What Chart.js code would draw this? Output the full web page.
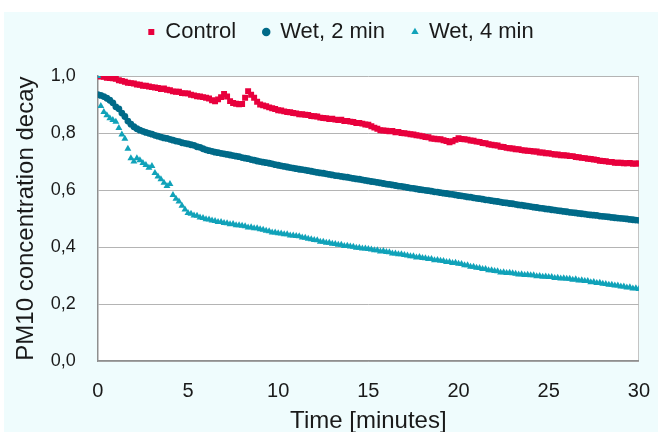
<!DOCTYPE html>
<html>
<head>
<meta charset="utf-8">
<script src="https://cdn.jsdelivr.net/npm/chart.js@4.4.1/dist/chart.umd.min.js"></script>
<style>
  html, body { margin: 0; padding: 0; background: #ffffff; }
  #wrap { width: 658px; height: 432px; position: relative; }
</style>
</head>
<body>
<div id="wrap"><canvas id="decayChart"></canvas></div>
<script>
// Mjerenja u intervalima od 10 s (1/6 min), 0..30 min
const sampleStepMin = 1 / 6;

const seriesNames = ['Control', 'Wet, 2 min', 'Wet, 4 min'];
const xTicks = [0, 5, 10, 15, 20, 25, 30];
const yTicks = [0, 0.2, 0.4, 0.6, 0.8, 1.0];

const controlValues = [
  1.000, 0.998, 0.997, 0.994, 0.993, 0.992,
  0.990, 0.985, 0.983, 0.980, 0.976, 0.975,
  0.974, 0.970, 0.969, 0.966, 0.966, 0.963,
  0.961, 0.960, 0.958, 0.954, 0.956, 0.952,
  0.950, 0.946, 0.945, 0.945, 0.940, 0.939,
  0.939, 0.934, 0.932, 0.929, 0.928, 0.926,
  0.924, 0.921, 0.915, 0.911, 0.918, 0.926,
  0.937, 0.928, 0.912, 0.905, 0.903, 0.901,
  0.902, 0.924, 0.947, 0.934, 0.924, 0.910,
  0.900, 0.897, 0.894, 0.890, 0.887, 0.884,
  0.880, 0.879, 0.876, 0.874, 0.873, 0.870,
  0.869, 0.866, 0.866, 0.864, 0.863, 0.860,
  0.859, 0.858, 0.854, 0.853, 0.852, 0.849,
  0.850, 0.847, 0.846, 0.847, 0.842, 0.842,
  0.840, 0.839, 0.835, 0.835, 0.833, 0.830,
  0.829, 0.824, 0.819, 0.815, 0.810, 0.809,
  0.808, 0.806, 0.807, 0.803, 0.804, 0.800,
  0.799, 0.798, 0.796, 0.795, 0.792, 0.791,
  0.789, 0.786, 0.785, 0.781, 0.780, 0.778,
  0.778, 0.775, 0.772, 0.768, 0.771, 0.776,
  0.782, 0.779, 0.778, 0.777, 0.774, 0.773,
  0.770, 0.769, 0.765, 0.764, 0.761, 0.759,
  0.757, 0.756, 0.752, 0.751, 0.748, 0.747,
  0.746, 0.743, 0.743, 0.740, 0.739, 0.738,
  0.737, 0.735, 0.735, 0.732, 0.732, 0.729,
  0.729, 0.727, 0.725, 0.725, 0.722, 0.722,
  0.721, 0.719, 0.719, 0.716, 0.715, 0.713,
  0.712, 0.710, 0.709, 0.707, 0.706, 0.703,
  0.702, 0.701, 0.699, 0.699, 0.696, 0.696,
  0.696, 0.694, 0.694, 0.695, 0.692, 0.693,
  0.693
];

const wet2Values = [
  0.935, 0.932, 0.928, 0.922, 0.915, 0.906,
  0.892, 0.885, 0.870, 0.858, 0.842, 0.831,
  0.822, 0.815, 0.810, 0.806, 0.802, 0.799,
  0.796, 0.792, 0.789, 0.786, 0.783, 0.781,
  0.778, 0.775, 0.772, 0.770, 0.766, 0.764,
  0.762, 0.759, 0.757, 0.752, 0.750, 0.745,
  0.741, 0.738, 0.736, 0.733, 0.731, 0.729,
  0.727, 0.725, 0.723, 0.721, 0.719, 0.717,
  0.714, 0.712, 0.710, 0.707, 0.705, 0.702,
  0.700, 0.698, 0.696, 0.694, 0.692, 0.689,
  0.687, 0.685, 0.683, 0.681, 0.679, 0.677,
  0.675, 0.673, 0.672, 0.670, 0.668, 0.666,
  0.664, 0.662, 0.660, 0.659, 0.657, 0.655,
  0.653, 0.651, 0.650, 0.648, 0.646, 0.645,
  0.643, 0.641, 0.639, 0.638, 0.636, 0.634,
  0.632, 0.630, 0.629, 0.627, 0.625, 0.623,
  0.621, 0.620, 0.618, 0.616, 0.614, 0.613,
  0.611, 0.609, 0.607, 0.606, 0.604, 0.602,
  0.601, 0.599, 0.598, 0.596, 0.594, 0.593,
  0.591, 0.589, 0.588, 0.586, 0.585, 0.583,
  0.581, 0.580, 0.578, 0.576, 0.575, 0.573,
  0.571, 0.570, 0.568, 0.566, 0.565, 0.563,
  0.561, 0.560, 0.558, 0.556, 0.555, 0.553,
  0.552, 0.550, 0.548, 0.547, 0.545, 0.544,
  0.542, 0.540, 0.539, 0.537, 0.536, 0.534,
  0.533, 0.531, 0.530, 0.528, 0.527, 0.525,
  0.524, 0.522, 0.521, 0.520, 0.518, 0.517,
  0.516, 0.514, 0.513, 0.512, 0.511, 0.509,
  0.508, 0.507, 0.506, 0.504, 0.503, 0.502,
  0.501, 0.500, 0.499, 0.497, 0.496, 0.495,
  0.494
];

const wet4Values = [
  1.000, 0.895, 0.874, 0.862, 0.852, 0.846,
  0.840, 0.818, 0.795, 0.780, 0.745, 0.712,
  0.700, 0.712, 0.705, 0.695, 0.688, 0.678,
  0.684, 0.660, 0.648, 0.638, 0.626, 0.614,
  0.621, 0.583, 0.570, 0.560, 0.545, 0.532,
  0.520, 0.517, 0.511, 0.510, 0.504, 0.502,
  0.498, 0.497, 0.493, 0.492, 0.488, 0.488,
  0.485, 0.484, 0.480, 0.481, 0.477, 0.477,
  0.475, 0.473, 0.469, 0.470, 0.466, 0.466,
  0.463, 0.461, 0.457, 0.456, 0.451, 0.451,
  0.449, 0.448, 0.445, 0.445, 0.441, 0.441,
  0.439, 0.438, 0.434, 0.433, 0.429, 0.428,
  0.425, 0.424, 0.419, 0.419, 0.415, 0.415,
  0.412, 0.411, 0.408, 0.408, 0.404, 0.405,
  0.402, 0.401, 0.398, 0.398, 0.395, 0.395,
  0.393, 0.392, 0.389, 0.389, 0.385, 0.386,
  0.383, 0.382, 0.378, 0.378, 0.375, 0.375,
  0.372, 0.371, 0.368, 0.368, 0.364, 0.365,
  0.362, 0.361, 0.358, 0.358, 0.354, 0.355,
  0.352, 0.351, 0.348, 0.348, 0.344, 0.345,
  0.342, 0.341, 0.336, 0.336, 0.331, 0.331,
  0.328, 0.327, 0.323, 0.323, 0.319, 0.319,
  0.316, 0.315, 0.311, 0.312, 0.309, 0.310,
  0.308, 0.307, 0.304, 0.305, 0.302, 0.303,
  0.301, 0.301, 0.298, 0.299, 0.296, 0.297,
  0.295, 0.295, 0.292, 0.293, 0.290, 0.291,
  0.289, 0.289, 0.286, 0.287, 0.283, 0.284,
  0.281, 0.281, 0.277, 0.278, 0.274, 0.275,
  0.272, 0.271, 0.268, 0.268, 0.265, 0.265,
  0.262, 0.262, 0.258, 0.259, 0.255, 0.256,
  0.253
];

// Pretvara niz vrijednosti u {x, y} tačke
function toPoints(values) {
    return values.map((v, i) => ({ x: i * sampleStepMin, y: v }));
}

// Pozadina: svijetlo plava oko grafa, bijelo polje unutar osa
const backgroundPlugin = {
    id: 'bgFill',
    afterLayout(chart) {
        // legenda je u originalu malo pomjerena udesno
        if (chart.legend) {
            chart.legend.left += 12;
            chart.legend.right += 12;
        }
    },
    beforeDraw(chart) {
        const { ctx, chartArea } = chart;
        ctx.save();
        ctx.fillStyle = '#effcfd';
        ctx.fillRect(4, 12, chart.width - 4, chart.height - 12);
        ctx.fillStyle = '#ffffff';
        ctx.fillRect(chartArea.left, chartArea.top, chartArea.right - chartArea.left, chartArea.bottom - chartArea.top);
        ctx.restore();
    }
};

const fontFamily = "'Liberation Sans', Arial, sans-serif";
Chart.defaults.font.family = fontFamily;
Chart.defaults.color = '#1a1a1a';

const ctx = document.getElementById('decayChart').getContext('2d');
new Chart(ctx, {
    type: 'scatter',
    data: {
        datasets: [
            {
                label: seriesNames[0],
                data: toPoints(controlValues),
                pointStyle: 'rect',
                pointRadius: 4.2,
                backgroundColor: '#e8003d',
                borderColor: '#e8003d',
                borderWidth: 0,
                order: 3
            },
            {
                label: seriesNames[1],
                data: toPoints(wet2Values),
                pointStyle: 'circle',
                pointRadius: 3.4,
                backgroundColor: '#006a88',
                borderColor: '#006a88',
                borderWidth: 0,
                order: 2
            },
            {
                label: seriesNames[2],
                data: toPoints(wet4Values),
                pointStyle: 'triangle',
                pointRadius: 4,
                backgroundColor: '#10a2b9',
                borderColor: '#10a2b9',
                borderWidth: 0,
                order: 1
            }
        ]
    },
    options: {
        responsive: true,
        maintainAspectRatio: false,
        animation: false,
        layout: { padding: { top: -6, left: 4, right: 4, bottom: -4 } },
        plugins: {
            tooltip: { enabled: false },
            legend: {
                position: 'top',
                labels: {
                    usePointStyle: true,
                    boxWidth: 6,
                    boxHeight: 6,
                    padding: 27,
                    font: { size: 22 },
                    sort: (a, b) => a.datasetIndex - b.datasetIndex
                }
            },
            // prazan naslov samo kao razmak izmedju legende i grafa
            title: {
                display: true,
                text: '',
                weight: 500,
                font: { size: 10, lineHeight: 1 },
                padding: { top: 0, bottom: 13 }
            }
        },
        scales: {
            x: {
                type: 'linear',
                min: 0,
                max: 30,
                afterBuildTicks: (axis) => { axis.ticks = xTicks.map(v => ({ value: v })); },
                ticks: { font: { size: 20 }, padding: 8, maxRotation: 0 },
                grid: {
                    drawTicks: true,
                    tickLength: 10,
                    tickColor: 'rgba(0,0,0,0)',
                    color: (c) => (c.tick && c.tick.value === 30 ? '#c4c4c4' : 'rgba(0,0,0,0)')
                },
                border: { color: '#8f8f8f', width: 1.5 },
                title: {
                    display: true,
                    text: 'Time [minutes]',
                    font: { size: 24 },
                    padding: { top: -4, bottom: 0 }
                }
            },
            y: {
                min: 0,
                max: 1,
                afterBuildTicks: (axis) => { axis.ticks = yTicks.map(v => ({ value: v })); },
                ticks: {
                    font: { size: 18 },
                    padding: 22,
                    callback: (v) => v.toFixed(1).replace('.', ',')
                },
                grid: { drawTicks: false, color: '#b4b4b4' },
                border: { color: '#8f8f8f', width: 1.5 },
                title: {
                    display: true,
                    text: 'PM10 concentration decay',
                    font: { size: 24 },
                    padding: { top: 8, bottom: -12 }
                }
            }
        }
    },
    plugins: [backgroundPlugin]
});
</script>
</body>
</html>
